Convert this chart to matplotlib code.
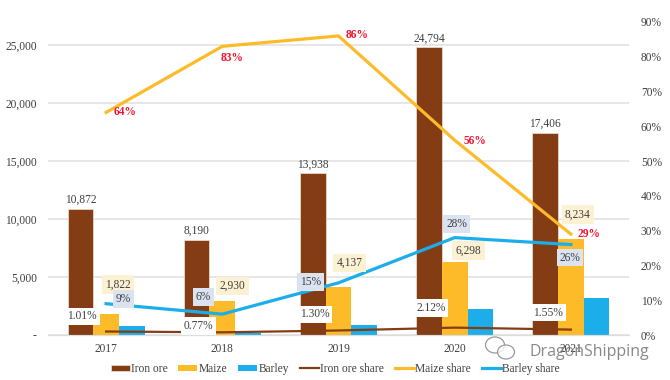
import numpy as np
import matplotlib
matplotlib.use("Agg")
import matplotlib.pyplot as plt
from matplotlib.patches import Ellipse
from matplotlib.transforms import Affine2D

plt.rcParams['font.family'] = ['Liberation Serif', 'DejaVu Serif']

years = ["2017", "2018", "2019", "2020", "2021"]
iron_ore = [10872, 8190, 13938, 24794, 17406]
maize = [1822, 2930, 4137, 6298, 8234]
barley = [780, 200, 900, 2270, 3220]
iron_share = [0.0101, 0.0077, 0.0130, 0.0212, 0.0155]
maize_share = [0.64, 0.83, 0.86, 0.56, 0.29]
barley_share = [0.09, 0.06, 0.15, 0.28, 0.26]
left_ticks = [0, 5000, 10000, 15000, 20000, 25000]
right_ticks = [0, 0.1, 0.2, 0.3, 0.4, 0.5, 0.6, 0.7, 0.8, 0.9]

BROWN = "#843c14"
YELLOW = "#fdbb2a"
BLUE = "#1caeea"
TEXT = "#404040"
W, H = 670, 380

fig = plt.figure(figsize=(W / 100, H / 100), dpi=100)
ax = fig.add_axes([48 / W, 45 / H, 581 / W, 313 / H])
x = np.arange(len(years))
bw = 0.221

ax.bar(x - bw, iron_ore, bw, color=BROWN, edgecolor="#f3e2d8", linewidth=0.5, label="Iron ore", zorder=2)
ax.bar(x, maize, bw, color=YELLOW, label="Maize", zorder=2)
ax.bar(x + bw, barley, bw, color=BLUE, label="Barley", zorder=2)
ax.set_xlim(-0.5, 4.5)
ax.set_ylim(0, 26983)
ax.set_xticks(x, years)
ax.set_yticks(left_ticks, ["-"] + [f"{v:,}" for v in left_ticks[1:]])
ax.grid(axis="y", color="#e6e6e6", linewidth=1.4, zorder=0)
ax.set_axisbelow(True)
ax.tick_params(length=0, labelsize=8.3, labelcolor=TEXT)
ax.tick_params(axis="x", pad=5.5)
ax.tick_params(axis="y", pad=8)

ax2 = ax.twinx()
ax2.set_ylim(0, 0.9)
ax2.set_yticks(right_ticks, [f"{v:.0%}" for v in right_ticks])
ax2.tick_params(length=0, labelsize=8.3, labelcolor=TEXT, pad=8.5)
ax2.plot(x, iron_share, color=BROWN, linewidth=1.6, label="Iron ore share", zorder=3)
ax2.plot(x, maize_share, color=YELLOW, linewidth=2.3, label="Maize share", zorder=3)
ax2.plot(x, barley_share, color=BLUE, linewidth=2.3, label="Barley share", zorder=3)

for a in (ax, ax2):
    for name, sp in a.spines.items():
        sp.set_visible(name == "bottom")
        sp.set_color("#dddddd")


def put(axis, xs, ys, labels, offsets, **kw):
    for xi, yi, s, off in zip(xs, ys, labels, offsets):
        axis.annotate(s, (xi, yi), xytext=off, textcoords="offset pixels",
                      ha="center", va="center", zorder=6, **kw)


# pixel offsets of each label from its mark
iron_off = [(0, 9)] * 5
maize_off = [(12, 29), (10, 15), (11, 24), (14, 11), (7, 25)]
ishare_off = [(-24, 15), (-24, 6), (-24, 16), (-24, 20), (-23, 17)]
mshare_off = [(19, 0), (10, -12), (19, 1), (20, -1), (18, 0)]
bshare_off = [(17, 5), (-19, 17), (-28, 1), (2, 14), (-1, -13)]

put(ax2, x - bw, np.array(iron_ore) / 26983 * 0.9, [f"{v:,}" for v in iron_ore], iron_off,
    fontsize=8.3, color=TEXT)
put(ax2, x, np.array(maize) / 26983 * 0.9, [f"{v:,}" for v in maize], maize_off,
    fontsize=8.3, color=TEXT,
    bbox=dict(boxstyle="square,pad=0.3", fc="#fdf1d3", ec="none"))
put(ax2, x, iron_share, [f"{v:.2%}" for v in iron_share], ishare_off,
    fontsize=8.3, color=TEXT,
    bbox=dict(boxstyle="square,pad=0.25", fc="white", ec="none"))
put(ax2, x, barley_share, [f"{v:.0%}" for v in barley_share], bshare_off,
    fontsize=8.3, color=TEXT,
    bbox=dict(boxstyle="square,pad=0.25", fc="#dbe3f1", ec="none"))
put(ax2, x, maize_share, [f"{v:.0%}" for v in maize_share], mshare_off,
    fontsize=8.3, color="#f5142d", fontweight="bold")

h1, l1 = ax.get_legend_handles_labels()
h2, l2 = ax2.get_legend_handles_labels()
fig.legend(h1 + h2, l1 + l2, ncol=6, loc="center", bbox_to_anchor=(335 / W, 1 - 369 / H),
           frameon=False, fontsize=8.3, labelcolor=TEXT, handlelength=1.65, handleheight=0.45,
           handletextpad=0.1, columnspacing=0.95, borderpad=0)

# watermark
px = Affine2D().scale(1 / W, 1 / H) + fig.transFigure
for cx, cy, ew, eh in [(495, H - 345, 19, 16), (506, H - 352, 17, 14)]:
    fig.add_artist(Ellipse((cx, cy), ew, eh, transform=px, fc="#ffffffc0", ec="#9a9a9a", lw=0.9, zorder=8))
fig.text(649 / W, 1 - 352 / H, "DragonShipping", ha="right", va="center", fontsize=11.5,
         family=["Open Sans", "DejaVu Sans"], color="#7c7c7c", alpha=0.9, zorder=9)

fig.savefig("out.png", dpi=100)
